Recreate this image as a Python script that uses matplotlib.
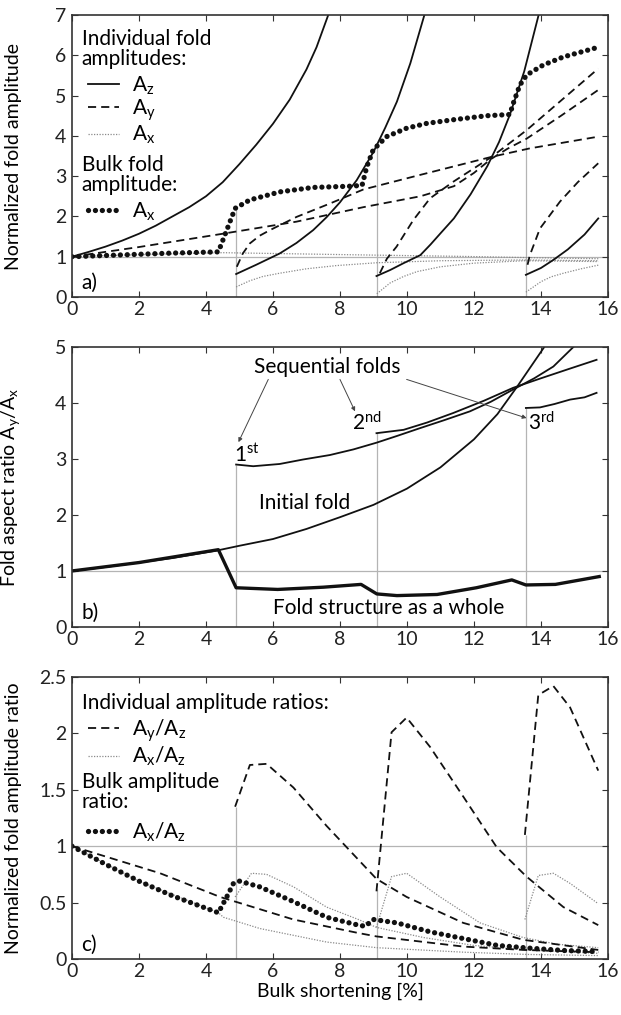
import matplotlib
matplotlib.use("Agg")
import matplotlib.pyplot as plt
from matplotlib.lines import Line2D

plt.rcParams['font.family'] = ['Lato', 'DejaVu Sans']
plt.rcParams['mathtext.default'] = 'regular'
plt.rcParams['font.size'] = 15

FS_TXT = 15
FS_TICK = 14
FS_LAB = 14

# nucleation of the sequential folds (bulk shortening, %)
nuc_x = [4.9, 9.1, 13.55]

# ---- panel a: normalized fold amplitudes ----
az0_x = [0, 0.5, 1, 1.5, 2, 2.5, 3, 3.5, 4, 4.5, 5, 5.5, 6, 6.5, 7, 7.3, 7.65]
az0_y = [1.0, 1.12, 1.25, 1.4, 1.57, 1.77, 2.0, 2.23, 2.5, 2.85, 3.3, 3.78, 4.3,
         4.9, 5.65, 6.2, 7.0]
az1_x = [4.9, 5.5, 6.2, 6.7, 7.2, 7.6, 8.0, 8.5, 9.0, 9.35, 9.7, 10.1, 10.52]
az1_y = [0.57, 0.8, 1.08, 1.34, 1.66, 1.98, 2.35, 2.9, 3.6, 4.2, 4.85, 5.8, 7.0]
az2_x = [9.09, 9.5, 9.9, 10.4, 10.7, 11.0, 11.4, 11.9, 12.4, 12.75, 13.07, 13.5, 13.93]
az2_y = [0.52, 0.67, 0.84, 1.04, 1.3, 1.58, 1.95, 2.55, 3.25, 3.85, 4.52, 5.6, 7.0]
az3_x = [13.55, 14.0, 14.37, 14.8, 15.3, 15.71]
az3_y = [0.55, 0.72, 0.92, 1.18, 1.55, 1.95]

ay0_x = [0, 2, 4.5, 6.7, 8.7, 10.4, 11.4, 12.0, 12.5, 13.0, 13.57, 14.6, 15.71]
ay0_y = [1.0, 1.24, 1.57, 1.87, 2.23, 2.5, 2.75, 3.08, 3.42, 3.68, 3.93, 4.5, 5.14]
ay1_x = [4.92, 5.1, 5.31, 5.6, 5.91, 6.71, 7.7, 8.7, 10.39, 12.53, 13.67, 15.71]
ay1_y = [0.75, 1.08, 1.33, 1.52, 1.66, 1.99, 2.32, 2.67, 3.03, 3.48, 3.69, 3.98]
ay2_x = [9.19, 9.4, 9.69, 10.19, 10.69, 11.38, 12.53, 13.57, 15.71]
ay2_y = [0.59, 0.95, 1.25, 1.91, 2.45, 2.86, 3.48, 4.14, 5.67]
ay3_x = [13.6, 13.67, 13.97, 14.57, 15.1, 15.71]
ay3_y = [0.8, 1.04, 1.7, 2.37, 2.85, 3.32]

ax0_x = [0, 2, 4.5, 6, 9, 11.5, 13.5, 15.71]
ax0_y = [1.0, 1.05, 1.1, 1.08, 1.04, 1.01, 0.98, 0.95]
ax1_x = [4.9, 5.3, 5.7, 6.2, 7.0, 7.9, 9.1, 11, 13.5, 15.71]
ax1_y = [0.25, 0.4, 0.51, 0.59, 0.7, 0.78, 0.85, 0.9, 0.92, 0.9]
ax2_x = [9.1, 9.5, 9.9, 10.3, 11.0, 12, 13.5, 15.71]
ax2_y = [0.08, 0.35, 0.51, 0.63, 0.75, 0.84, 0.9, 0.88]
ax3_x = [13.55, 14.0, 14.3, 14.67, 15.2, 15.71]
ax3_y = [0.12, 0.38, 0.5, 0.59, 0.7, 0.79]

bulk_a_x = [0, 1, 2, 3, 4.37, 4.62, 4.87, 5.31, 6.21, 7.2, 8.3, 8.66, 8.8, 8.99,
            9.39, 9.99, 10.59, 11.38, 12.38, 13.07, 13.17, 13.37, 13.57, 14.07,
            14.67, 15.71]
bulk_a_y = [1.0, 1.03, 1.06, 1.09, 1.12, 1.66, 2.2, 2.41, 2.61, 2.72, 2.75, 2.77,
            3.23, 3.65, 3.98, 4.19, 4.31, 4.4, 4.5, 4.53, 4.8, 5.26, 5.51, 5.76,
            5.96, 6.2]
vtop_a = [2.2, 3.7, 5.5]

# ---- panel b: fold aspect ratio ----
init_b_x = [0, 1, 2, 3, 4.37, 5, 6, 7, 8, 9, 10, 11, 12, 12.7, 13.3, 13.7, 14.1]
init_b_y = [1.0, 1.07, 1.15, 1.23, 1.37, 1.45, 1.57, 1.75, 1.96, 2.18, 2.47, 2.85,
            3.35, 3.8, 4.3, 4.65, 5.0]
whole_b_x = [0, 2, 4.37, 4.9, 6.14, 7.5, 8.63, 9.1, 9.7, 10.9, 12.07, 13.13,
             13.55, 14.43, 15.74]
whole_b_y = [1.0, 1.15, 1.38, 0.70, 0.67, 0.71, 0.76, 0.59, 0.56, 0.58, 0.70,
             0.84, 0.75, 0.76, 0.90]
seq1_b_x = [4.9, 5.41, 6.2, 6.9, 7.7, 8.4, 9.09, 9.7, 10.39, 11.1, 11.88, 12.5,
            13.17, 13.8, 14.37, 14.97]
seq1_b_y = [2.90, 2.87, 2.91, 2.99, 3.07, 3.17, 3.29, 3.41, 3.55, 3.69, 3.85, 4.02,
            4.24, 4.44, 4.65, 5.0]
seq2_b_x = [9.09, 9.9, 10.6, 11.38, 12.3, 13.17, 14.0, 14.8, 15.66]
seq2_b_y = [3.46, 3.52, 3.65, 3.82, 4.04, 4.27, 4.44, 4.6, 4.77]
seq3_b_x = [13.55, 13.97, 14.4, 14.87, 15.3, 15.66]
seq3_b_y = [3.91, 3.92, 3.98, 4.06, 4.1, 4.18]
vtop_b = [2.9, 3.46, 3.91]

# ---- panel c: normalized amplitude ratios ----
ryz0_x = [0, 2.63, 4.42, 6.61, 8.55, 9.09, 11.68, 13.5, 15.71]
ryz0_y = [1.0, 0.76, 0.55, 0.35, 0.23, 0.2, 0.11, 0.08, 0.06]
ryz1_x = [4.87, 5.31, 5.81, 6.61, 7.6, 8.55, 9.09, 9.99, 11.68, 13.47, 15.71]
ryz1_y = [1.35, 1.72, 1.73, 1.52, 1.18, 0.88, 0.71, 0.55, 0.32, 0.17, 0.08]
ryz2_x = [9.09, 9.54, 9.99, 10.69, 11.68, 12.68, 13.57, 14.67, 15.71]
ryz2_y = [0.6, 2.01, 2.14, 1.88, 1.44, 0.99, 0.73, 0.46, 0.30]
ryz3_x = [13.52, 13.92, 14.37, 14.87, 15.71]
ryz3_y = [1.10, 2.34, 2.42, 2.23, 1.67]

rxz0_x = [0, 2, 4.37, 4.52, 5.61, 7.6, 9.1, 11.7, 13.6, 15.71]
rxz0_y = [1.0, 0.69, 0.41, 0.37, 0.27, 0.15, 0.1, 0.06, 0.04, 0.03]
rxz1_x = [4.87, 5.36, 5.81, 6.61, 7.6, 8.55, 9.09, 10.5, 12, 13.6, 15.71]
rxz1_y = [0.55, 0.76, 0.75, 0.64, 0.46, 0.35, 0.28, 0.19, 0.12, 0.08, 0.05]
rxz2_x = [9.09, 9.54, 9.99, 10.99, 12.18, 13.47, 14.5, 15.71]
rxz2_y = [0.28, 0.73, 0.76, 0.55, 0.32, 0.19, 0.13, 0.1]
rxz3_x = [13.52, 13.92, 14.37, 14.87, 15.71]
rxz3_y = [0.35, 0.74, 0.76, 0.67, 0.49]

bulk_c_x = [0, 1, 2, 3, 4, 4.37, 4.62, 4.82, 5.0, 5.6, 6.6, 7.6, 8.55, 8.75,
            9.0, 9.7, 10.7, 11.7, 12.7, 13.7, 14.7, 15.71]
bulk_c_y = [1.0, 0.84, 0.69, 0.56, 0.45, 0.41, 0.55, 0.67, 0.69, 0.64, 0.51,
            0.37, 0.3, 0.29, 0.35, 0.32, 0.24, 0.18, 0.12, 0.095, 0.075, 0.065]
vtop_c = [1.35, 0.62, 1.1]

# styles
K = '#111111'
GREF = '#b4b4b4'
solid = dict(color=K, lw=1.3)
dashed = dict(color=K, lw=1.3, ls=(0, (4.5, 2.8)))
dotted = dict(color='#8a8a8a', lw=0.9, ls=(0, (1, 1.2)))
bulk = dict(color=K, lw=3.8, ls=(0, (0.01, 1.3)), dash_capstyle='round')

fig = plt.figure(figsize=(6.21, 10.15), dpi=100)
ax_a = fig.add_axes([0.1159, 0.7074, 0.8631, 0.2778])
ax_b = fig.add_axes([0.1159, 0.3823, 0.8631, 0.2759])
ax_c = fig.add_axes([0.1159, 0.0552, 0.8631, 0.2778])


def style(ax, ymax, yticks, ylabels, ylabel, tag):
    ax.set_xlim(0, 16)
    ax.set_ylim(0, ymax)
    ax.set_xticks(range(0, 17, 2))
    ax.set_yticks(yticks)
    ax.set_yticklabels(ylabels)
    ax.tick_params(direction='in', top=True, right=True, length=4, width=0.8,
                   labelsize=FS_TICK, colors='#333333', labelcolor='#222222')
    ax.tick_params(axis='x', pad=3)
    ax.tick_params(axis='y', pad=4)
    for s in ax.spines.values():
        s.set_color('#333333')
        s.set_linewidth(1.2)
    ax.set_ylabel(ylabel, fontsize=FS_LAB)
    ax.yaxis.set_label_coords(-0.093, 0.5)
    ax.axhline(1, color=GREF, lw=0.9, zorder=0)
    ax.text(0.017, 0.05, tag, transform=ax.transAxes, fontsize=FS_TXT,
            va='center', ha='left')


leg_kw = dict(loc='upper left', frameon=False, borderpad=0, borderaxespad=0,
              handlelength=1.5, handletextpad=0.6, labelspacing=0.05,
              fontsize=FS_TXT)

# panel a
style(ax_a, 7, range(0, 8), [str(v) for v in range(0, 8)],
      'Normalized fold amplitude', 'a)')
ax_a.vlines(nuc_x, 0, vtop_a, color=GREF, lw=0.9, zorder=0)
for xs, ys in [(ax0_x, ax0_y), (ax1_x, ax1_y), (ax2_x, ax2_y), (ax3_x, ax3_y)]:
    ax_a.plot(xs, ys, **dotted)
for xs, ys in [(ay0_x, ay0_y), (ay1_x, ay1_y), (ay2_x, ay2_y), (ay3_x, ay3_y)]:
    ax_a.plot(xs, ys, **dashed)
for xs, ys in [(az0_x, az0_y), (az1_x, az1_y), (az2_x, az2_y), (az3_x, az3_y)]:
    ax_a.plot(xs, ys, **solid)
ax_a.plot(bulk_a_x, bulk_a_y, **bulk)

ax_a.text(0.018, 0.952, 'Individual fold\namplitudes:', transform=ax_a.transAxes,
          va='top', ha='left', linespacing=1.0)
leg1 = ax_a.legend([Line2D([], [], **solid), Line2D([], [], **dashed),
                    Line2D([], [], **dotted)],
                   ['A$_z$', 'A$_y$', 'A$_x$'], bbox_to_anchor=(0.03, 0.79),
                   **leg_kw)
ax_a.add_artist(leg1)
ax_a.text(0.018, 0.502, 'Bulk fold\namplitude:', transform=ax_a.transAxes,
          va='top', ha='left', linespacing=1.0)
ax_a.legend([Line2D([], [], **bulk)], ['A$_x$'], bbox_to_anchor=(0.03, 0.342),
            **leg_kw)

# panel b
style(ax_b, 5, range(0, 6), [str(v) for v in range(0, 6)],
      'Fold aspect ratio A$_y$/A$_x$', 'b)')
ax_b.vlines(nuc_x, 0, vtop_b, color=GREF, lw=0.9, zorder=0)
ax_b.plot(init_b_x, init_b_y, **solid)
ax_b.plot(seq1_b_x, seq1_b_y, **solid)
ax_b.plot(seq2_b_x, seq2_b_y, **solid)
ax_b.plot(seq3_b_x, seq3_b_y, **solid)
ax_b.plot(whole_b_x, whole_b_y, color=K, lw=2.4)

ax_b.text(7.63, 4.65, 'Sequential folds', ha='center', va='center')
arrow = dict(arrowstyle='-|>', color='#444444', lw=0.7, mutation_scale=6,
             shrinkA=0, shrinkB=0)
ax_b.annotate('', xy=(4.97, 3.3), xytext=(5.86, 4.42), arrowprops=arrow)
ax_b.annotate('', xy=(8.45, 3.85), xytext=(8.0, 4.42), arrowprops=arrow)
ax_b.annotate('', xy=(13.57, 3.73), xytext=(9.99, 4.42), arrowprops=arrow)
ax_b.text(4.85, 2.95, '1$^{st}$', ha='left', va='baseline')
ax_b.text(8.35, 3.52, '2$^{nd}$', ha='left', va='baseline')
ax_b.text(13.62, 3.52, '3$^{rd}$', ha='left', va='baseline')
ax_b.text(6.94, 2.22, 'Initial fold', ha='center', va='center')
ax_b.text(9.46, 0.34, 'Fold structure as a whole', ha='center', va='center')

# panel c
style(ax_c, 2.5, [0, 0.5, 1, 1.5, 2, 2.5], ['0', '0.5', '1', '1.5', '2', '2.5'],
      'Normalized fold amplitude ratio', 'c)')
ax_c.vlines(nuc_x, 0, vtop_c, color=GREF, lw=0.9, zorder=0)
for xs, ys in [(rxz0_x, rxz0_y), (rxz1_x, rxz1_y), (rxz2_x, rxz2_y), (rxz3_x, rxz3_y)]:
    ax_c.plot(xs, ys, **dotted)
for xs, ys in [(ryz0_x, ryz0_y), (ryz1_x, ryz1_y), (ryz2_x, ryz2_y), (ryz3_x, ryz3_y)]:
    ax_c.plot(xs, ys, **dashed)
ax_c.plot(bulk_c_x, bulk_c_y, **bulk)
ax_c.set_xlabel('Bulk shortening [%]', fontsize=FS_LAB, labelpad=2)

ax_c.text(0.018, 0.945, 'Individual amplitude ratios:', transform=ax_c.transAxes,
          va='top', ha='left', linespacing=1.0)
leg3 = ax_c.legend([Line2D([], [], **dashed), Line2D([], [], **dotted)],
                   ['A$_y$/A$_z$', 'A$_x$/A$_z$'], bbox_to_anchor=(0.03, 0.857),
                   **leg_kw)
ax_c.add_artist(leg3)
ax_c.text(0.018, 0.662, 'Bulk amplitude\nratio:', transform=ax_c.transAxes,
          va='top', ha='left', linespacing=1.0)
ax_c.legend([Line2D([], [], **bulk)], ['A$_x$/A$_z$'], bbox_to_anchor=(0.03, 0.492),
            **leg_kw)

fig.savefig('out.png', dpi=100)
